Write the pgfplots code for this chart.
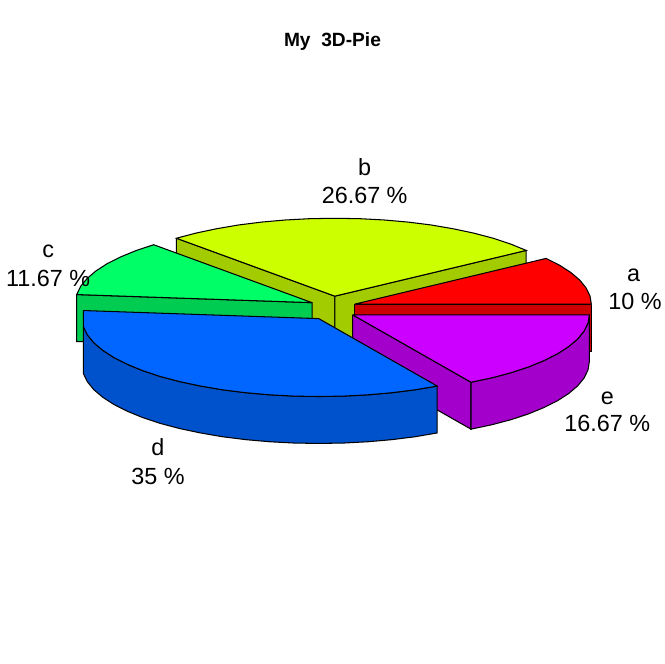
\documentclass[border=0pt]{standalone}
\usepackage{fontspec}
\setmainfont{Liberation Sans}
\usepackage{pgfplots}
\pgfplotsset{compat=1.18}

% rainbow(5) and its 80% shades for the sides
\definecolor{topa}{HTML}{FF0000}\definecolor{sidea}{HTML}{CC0000}
\definecolor{topb}{HTML}{CCFF00}\definecolor{sideb}{HTML}{A3CC00}
\definecolor{topc}{HTML}{00FF66}\definecolor{sidec}{HTML}{00CC52}
\definecolor{topd}{HTML}{0066FF}\definecolor{sided}{HTML}{0052CC}
\definecolor{tope}{HTML}{CC00FF}\definecolor{sidee}{HTML}{A300CC}

\newcommand{\lab}{\fontsize{23.4}{28}\selectfont}

\begin{document}
\begin{tikzpicture}
\begin{axis}[
  scale only axis, width=665pt, height=664pt,
  xmin=-0.5, xmax=664.5, ymin=-0.6, ymax=663.4, y dir=reverse,
  hide axis, clip=false,
  every axis plot/.append style={draw=black, line width=1.05pt, no markers, line join=miter},
]
\path (axis cs:-0.5,-0.6) rectangle (axis cs:664.5,663.4);

% b
\addplot[fill=sideb] coordinates {(176.2,238) (334.8,296) (334.8,343) (176.2,285) (176.2,238)};
\addplot[fill=sideb] coordinates {(334.8,296) (526.5,250.2) (526.5,297.2) (334.8,343) (334.8,296)};
\addplot[fill=topb] coordinates {(334.8,296) (526.5,250.2) (510.9,243.8) (493.4,238) (474.1,232.9) (453.3,228.5) (431.2,224.7) (408,221.8) (384.1,219.7) (359.6,218.4) (334.8,218) (310,218.4) (285.5,219.7) (261.6,221.8) (238.4,224.7) (216.3,228.5) (195.5,232.9) (176.2,238) (334.8,296)};

% c
\addplot[fill=sidec] coordinates {(76.3,294.4) (312,302.5) (312,349.5) (76.3,341.4) (76.3,294.4)};
\addplot[fill=topc] coordinates {(312,302.5) (153.4,244.5) (135.9,250.3) (120.3,256.7) (106.8,263.5) (95.5,270.8) (86.6,278.4) (80.2,286.3) (76.3,294.4) (312,302.5)};

% a
\addplot[fill=sidea] coordinates {(354.7,304) (591.7,304) (591.7,351) (354.7,351) (354.7,304)};
\addplot[fill=topa] coordinates {(354.7,304) (591.7,304) (590.4,295.9) (586.5,287.8) (580.1,279.9) (571.2,272.3) (559.9,265) (546.4,258.2) (354.7,304)};

% e
\addplot[fill=sidee] coordinates {(352.7,314.7) (471.2,382.2) (471.2,429.2) (352.7,361.7) (352.7,314.7)};
\addplot[fill=sidee] coordinates {(471.2,382.2) (492,377.8) (511.3,372.7) (528.8,366.9) (544.4,360.5) (557.9,353.7) (569.2,346.4) (578.1,338.8) (584.5,330.9) (588.4,322.9) (589.7,314.7) (589.7,361.7) (588.4,369.9) (584.5,377.9) (578.1,385.8) (569.2,393.4) (557.9,400.7) (544.4,407.5) (528.8,413.9) (511.3,419.7) (492,424.8) (471.2,429.2) (471.2,382.2)};
\addplot[fill=tope] coordinates {(352.7,314.7) (589.7,314.7) (588.4,322.9) (584.5,330.9) (578.1,338.8) (569.2,346.4) (557.9,353.7) (544.4,360.5) (528.8,366.9) (511.3,372.7) (492,377.8) (471.2,382.2) (352.7,314.7)};

% d
\addplot[fill=sided] coordinates {(83.1,326.7) (87,334.7) (93.4,342.6) (102.3,350.2) (113.6,357.5) (127.1,364.3) (142.7,370.7) (160.2,376.5) (179.5,381.6) (200.3,386) (222.4,389.8) (245.6,392.7) (269.5,394.8) (294,396.1) (318.8,396.5) (343.6,396.1) (368.1,394.8) (392,392.7) (415.2,389.8) (437.3,386) (437.3,433) (415.2,436.8) (392,439.7) (368.1,441.8) (343.6,443.1) (318.8,443.5) (294,443.1) (269.5,441.8) (245.6,439.7) (222.4,436.8) (200.3,433) (179.5,428.6) (160.2,423.5) (142.7,417.7) (127.1,411.3) (113.6,404.5) (102.3,397.2) (93.4,389.6) (87,381.7) (83.1,373.7) (83.1,326.7)};
\addplot[fill=topd] coordinates {(318.8,318.5) (83.1,310.4) (83.1,326.7) (87,334.7) (93.4,342.6) (102.3,350.2) (113.6,357.5) (127.1,364.3) (142.7,370.7) (160.2,376.5) (179.5,381.6) (200.3,386) (222.4,389.8) (245.6,392.7) (269.5,394.8) (294,396.1) (318.8,396.5) (343.6,396.1) (368.1,394.8) (392,392.7) (415.2,389.8) (437.3,386) (318.8,318.5)};

% labels
\node[anchor=base, font=\lab] at (axis cs:364.7,175) {b};
\node[anchor=base, font=\lab] at (axis cs:364.7,203) {26.67 \%};
\node[anchor=base, font=\lab] at (axis cs:634,281) {a};
\node[anchor=base, font=\lab] at (axis cs:635.5,309) {10 \%};
\node[anchor=base, font=\lab] at (axis cs:47.7,257) {c};
\node[anchor=base, font=\lab] at (axis cs:47.7,286) {11.67 \%};
\node[anchor=base, font=\lab] at (axis cs:157.7,456) {d};
\node[anchor=base, font=\lab] at (axis cs:157.7,484.5) {35 \%};
\node[anchor=base, font=\lab] at (axis cs:607.7,405) {e};
\node[anchor=base, font=\lab] at (axis cs:607.7,432) {16.67 \%};
\node[anchor=base, font=\fontsize{19.2}{23}\selectfont\bfseries] at (axis cs:332.5,46) {My\ \ 3D-Pie};
\end{axis}
\end{tikzpicture}
\end{document}
